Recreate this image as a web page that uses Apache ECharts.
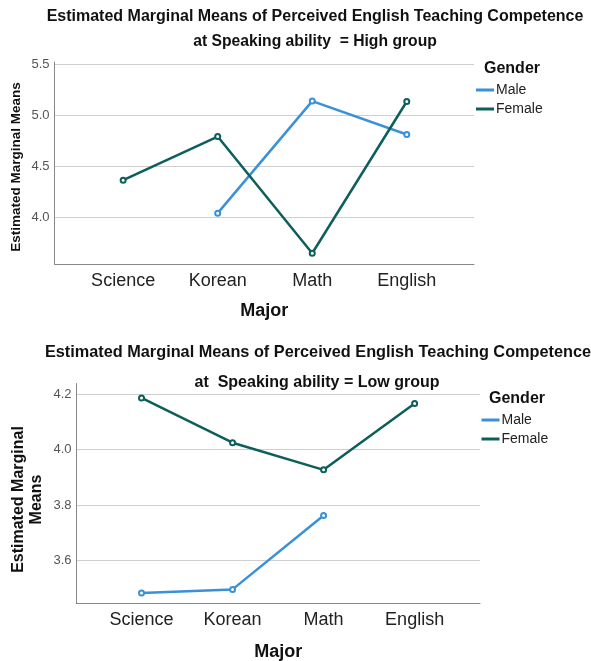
<!DOCTYPE html>
<html>
<head>
<meta charset="utf-8">
<script src="https://cdn.jsdelivr.net/npm/echarts@6/dist/echarts.min.js"></script>
<style>
    html, body { margin: 0; padding: 0; background: #fff; }
    #chart { width: 591px; height: 661px; }
</style>
</head>
<body>
<div id="chart"></div>
<script>
// categories and estimated means
const majors = ['Science', 'Korean', 'Math', 'English'];
const highMale = [null, 4.04, 5.137, 4.81];
const highFemale = [4.363, 4.79, 3.647, 5.133];
const lowMale = [3.482, 3.495, 3.762, null];
const lowFemale = [4.187, 4.025, 3.927, 4.167];
const highTicks = [4.0, 4.5, 5.0, 5.5];
const lowTicks = [3.6, 3.8, 4.0, 4.2];
const genders = ['Male', 'Female'];

const maleColor = '#3a91d9',
    femaleColor = '#0c5f5b',
    font = 'Liberation Sans, Arial, sans-serif';

// turn a list of means into [categoryIndex, value] points, skipping empty cells
function toPoints(list) {
    return list
        .map((v, i) => [i, v])
        .filter((p) => p[1] !== null);
}

function xAxisFor(gridIndex, min, max, nameGap) {
    return {
        gridIndex: gridIndex,
        type: 'value',
        min: min,
        max: max,
        name: 'Major',
        nameLocation: 'middle',
        nameGap: nameGap,
        nameTextStyle: { fontFamily: font, fontWeight: 'bold', fontSize: 18, color: '#111' },
        axisLine: { show: true, onZero: false, lineStyle: { color: '#888', width: 1 } },
        axisTick: { show: false },
        splitLine: { show: false },
        axisLabel: {
            customValues: [0, 1, 2, 3],
            formatter: (v) => majors[Math.round(v)],
            fontFamily: font,
            fontSize: 18,
            color: '#222',
            margin: 8,
        },
    };
}

function yAxisFor(gridIndex, min, max, ticks, name, nameGap, nameSize, shift) {
    return {
        gridIndex: gridIndex,
        type: 'value',
        min: min,
        max: max,
        name: name,
        nameLocation: 'middle',
        nameGap: nameGap,
        nameMoveOverlap: false,
        nameTextStyle: {
            fontFamily: font,
            fontWeight: 'bold',
            fontSize: nameSize,
            color: '#111',
            lineHeight: nameSize + 2,
            // extra room at the text end pushes the rotated name down a bit
            padding: [0, shift, 0, 0],
        },
        axisLine: { show: true, onZero: false, lineStyle: { color: '#888', width: 1 } },
        axisTick: { show: false, customValues: ticks },
        splitLine: { show: true, lineStyle: { color: '#cfcfcf', width: 1 } },
        axisLabel: {
            customValues: ticks,
            formatter: (v) => v.toFixed(1),
            fontFamily: font,
            fontSize: 13,
            color: '#555',
            margin: 5,
        },
    };
}

function lineSeries(name, color, data, idx) {
    return {
        name: name,
        type: 'line',
        xAxisIndex: idx,
        yAxisIndex: idx,
        data: toPoints(data),
        symbol: 'emptyCircle',
        symbolSize: 5,
        itemStyle: { color: color, borderWidth: 1 },
        lineStyle: { color: color, width: 2.5 },
        emphasis: { disabled: true },
    };
}

const titleStyle = { fontFamily: font, fontWeight: 'bold', fontSize: 16, color: '#111' };

function titleAt(text, x, y, size, align) {
    return {
        text: text,
        left: x,
        top: y,
        padding: 0,
        textAlign: align,
        textStyle: { ...titleStyle, fontSize: size },
    };
}

function legendAt(x, y) {
    return {
        data: genders,
        orient: 'vertical',
        left: x,
        top: y,
        padding: 0,
        itemWidth: 18,
        itemHeight: 3,
        itemGap: 5,
        icon: 'rect',
        textStyle: { fontFamily: font, fontSize: 14, color: '#222', padding: [0, 0, 0, -3] },
    };
}

const option = {
    animation: false,
    title: [
        titleAt('Estimated Marginal Means of Perceived English Teaching Competence', 315, 9, 16, 'center'),
        titleAt('at Speaking ability  = High group', 315, 34, 15.7, 'center'),
        titleAt('Gender', 484, 61, 16, 'left'),
        titleAt('Estimated Marginal Means of Perceived English Teaching Competence', 318, 345, 16.3, 'center'),
        titleAt('at  Speaking ability = Low group', 317, 375, 16, 'center'),
        titleAt('Gender', 489, 391, 16, 'left'),
    ],
    legend: [legendAt(476, 83), legendAt(481.5, 413)],
    grid: [
        { left: 54.5, right: 117, top: 62, bottom: 397, outerBoundsMode: 'none' },
        { left: 76.5, right: 111, top: 383.5, bottom: 57.5, outerBoundsMode: 'none' },
    ],
    xAxis: [xAxisFor(0, -0.726, 3.711, 38), xAxisFor(1, -0.714, 3.718, 40)],
    yAxis: [
        yAxisFor(0, 3.542, 5.52, highTicks, 'Estimated Marginal Means', 30.5, 13.5, 8),
        yAxisFor(1, 3.444, 4.239, lowTicks, 'Estimated Marginal\nMeans', 31, 16, 12),
    ],
    series: [
        lineSeries('Male', maleColor, highMale, 0),
        lineSeries('Female', femaleColor, highFemale, 0),
        lineSeries('Male', maleColor, lowMale, 1),
        lineSeries('Female', femaleColor, lowFemale, 1),
    ],
};

let myChart = echarts.init(document.getElementById('chart'));
myChart.setOption(option);
</script>
</body>
</html>
